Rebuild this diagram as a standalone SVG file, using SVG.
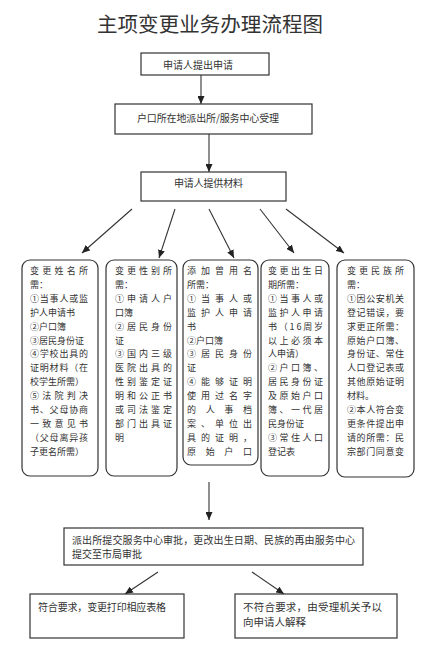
<svg xmlns="http://www.w3.org/2000/svg" width="426" height="647" viewBox="0 0 426 647">
<style>
text{font-family:"Noto Sans CJK SC","Noto Sans",sans-serif;fill:#333}
.b{fill:#fff;stroke:#333;stroke-width:1.2}
.c{fill:#fff;stroke:#333;stroke-width:1.2}
.t{font-size:10px}
.s{font-size:9px}
.ln{stroke:#333;stroke-width:1.1;fill:none;marker-end:url(#ah)}
</style>
<defs>
<marker id="ah" markerUnits="userSpaceOnUse" markerWidth="8" markerHeight="7" refX="8" refY="3.5" orient="auto">
<path d="M0,0 L8,3.5 L0,7 z" fill="#222"/>
</marker>
</defs>
<rect width="426" height="647" fill="#fff"/>
<text x="97" y="31.5" font-size="20.5" textLength="226" lengthAdjust="spacing">主项变更业务办理流程图</text>

<g id="connectors">
<line class="ln" x1="201" y1="75" x2="201" y2="104"/>
<line class="ln" x1="209" y1="134" x2="209" y2="172"/>
<line class="ln" x1="132" y1="209" x2="82" y2="253"/>
<line class="ln" x1="175" y1="209" x2="159" y2="258"/>
<line class="ln" x1="209" y1="209" x2="234" y2="258"/>
<line class="ln" x1="260" y1="209" x2="294" y2="253"/>
<line class="ln" x1="286" y1="209" x2="344" y2="253"/>
<line class="ln" x1="209" y1="482" x2="209" y2="520"/>
<line class="ln" x1="158" y1="572" x2="125" y2="594"/>
<line class="ln" x1="252" y1="572" x2="284" y2="594"/>
</g>

<g id="n1">
<rect class="b" x="141" y="53" width="128" height="22"/>
<text class="t" x="163" y="69" textLength="70" lengthAdjust="spacing">申请人提出申请</text>
</g>
<g id="n2">
<rect class="b" x="115" y="104" width="197" height="30"/>
<text class="t" x="137" y="121.5" textLength="142" lengthAdjust="spacing">户口所在地派出所/服务中心受理</text>
</g>
<g id="n3">
<rect class="b" x="141" y="172" width="145" height="29"/>
<text class="t" x="174" y="186.5" textLength="69" lengthAdjust="spacing">申请人提供材料</text>
</g>

<g id="c1">
<rect class="c" x="22" y="260" width="76" height="216" rx="8"/>
<g class="s">
<text x="30" y="274" textLength="58" lengthAdjust="spacing">变更姓名所</text>
<text x="30" y="287.9">需：</text>
<text x="30" y="301.8" textLength="58" lengthAdjust="spacing">①当事人或监</text>
<text x="30" y="315.7">护人申请书</text>
<text x="30" y="329.6">②户口簿</text>
<text x="30" y="343.5">③居民身份证</text>
<text x="30" y="357.4" textLength="58" lengthAdjust="spacing">④学校出具的</text>
<text x="30" y="371.3" textLength="58" lengthAdjust="spacing">证明材料（在</text>
<text x="30" y="385.2">校学生所需）</text>
<text x="30" y="399.1" textLength="58" lengthAdjust="spacing">⑤法院判决</text>
<text x="30" y="413" textLength="58" lengthAdjust="spacing">书、父母协商</text>
<text x="30" y="426.9" textLength="58" lengthAdjust="spacing">一致意见书</text>
<text x="30" y="440.8" textLength="58" lengthAdjust="spacing">（父母离异孩</text>
<text x="30" y="454.7">子更名所需）</text>
</g>
</g>

<g id="c2">
<rect class="c" x="106" y="260" width="71" height="216" rx="8"/>
<g class="s">
<text x="115" y="274" textLength="57" lengthAdjust="spacing">变更性别所</text>
<text x="115" y="287.9">需：</text>
<text x="115" y="301.8" textLength="57" lengthAdjust="spacing">①申请人户</text>
<text x="115" y="315.7">口簿</text>
<text x="115" y="329.6" textLength="57" lengthAdjust="spacing">②居民身份</text>
<text x="115" y="343.5">证</text>
<text x="115" y="357.4" textLength="57" lengthAdjust="spacing">③国内三级</text>
<text x="115" y="371.3" textLength="57" lengthAdjust="spacing">医院出具的</text>
<text x="115" y="385.2" textLength="57" lengthAdjust="spacing">性别鉴定证</text>
<text x="115" y="399.1" textLength="57" lengthAdjust="spacing">明和公正书</text>
<text x="115" y="413" textLength="57" lengthAdjust="spacing">或司法鉴定</text>
<text x="115" y="426.9" textLength="57" lengthAdjust="spacing">部门出具证</text>
<text x="115" y="440.8">明</text>
</g>
</g>

<g id="c3">
<rect class="c" x="183" y="260" width="75" height="205" rx="8"/>
<g class="s">
<text x="187" y="274" textLength="65" lengthAdjust="spacing">添加曾用名</text>
<text x="187" y="287.9">所需：</text>
<text x="187" y="301.8" textLength="65" lengthAdjust="spacing">①当事人或</text>
<text x="187" y="315.7" textLength="65" lengthAdjust="spacing">监护人申请</text>
<text x="187" y="329.6">书</text>
<text x="187" y="343.5">②户口簿</text>
<text x="187" y="357.4" textLength="65" lengthAdjust="spacing">③居民身份</text>
<text x="187" y="371.3">证</text>
<text x="187" y="385.2" textLength="65" lengthAdjust="spacing">④能够证明</text>
<text x="187" y="399.1" textLength="65" lengthAdjust="spacing">使用过名字</text>
<text x="187" y="413" textLength="65" lengthAdjust="spacing">的人事档</text>
<text x="187" y="426.9" textLength="65" lengthAdjust="spacing">案、单位出</text>
<text x="187" y="440.8" textLength="65" lengthAdjust="spacing">具的证明，</text>
<text x="187" y="454.7" textLength="65" lengthAdjust="spacing">原始户口</text>
</g>
</g>

<g id="c4">
<rect class="c" x="261" y="260" width="68" height="216" rx="8"/>
<g class="s">
<text x="268" y="274" textLength="55" lengthAdjust="spacing">变更出生日</text>
<text x="268" y="287.9">期所需：</text>
<text x="268" y="301.8" textLength="55" lengthAdjust="spacing">①当事人或</text>
<text x="268" y="315.7" textLength="55" lengthAdjust="spacing">监护人申请</text>
<text x="268" y="329.6" textLength="55" lengthAdjust="spacing">书（16周岁</text>
<text x="268" y="343.5" textLength="55" lengthAdjust="spacing">以上必须本</text>
<text x="268" y="357.4">人申请）</text>
<text x="268" y="371.3" textLength="55" lengthAdjust="spacing">②户口簿、</text>
<text x="268" y="385.2" textLength="55" lengthAdjust="spacing">居民身份证</text>
<text x="268" y="399.1" textLength="55" lengthAdjust="spacing">及原始户口</text>
<text x="268" y="413" textLength="55" lengthAdjust="spacing">簿、一代居</text>
<text x="268" y="426.9">民身份证</text>
<text x="268" y="440.8" textLength="55" lengthAdjust="spacing">③常住人口</text>
<text x="268" y="454.7">登记表</text>
</g>
</g>

<g id="c5">
<rect class="c" x="337" y="260" width="77" height="217" rx="8"/>
<g class="s">
<text x="347" y="274" textLength="57" lengthAdjust="spacing">变更民族所</text>
<text x="347" y="287.9">需：</text>
<text x="347" y="301.8" textLength="57" lengthAdjust="spacing">①因公安机关</text>
<text x="347" y="315.7" textLength="57" lengthAdjust="spacing">登记错误，要</text>
<text x="347" y="329.6" textLength="57" lengthAdjust="spacing">求更正所需：</text>
<text x="347" y="343.5" textLength="57" lengthAdjust="spacing">原始户口簿、</text>
<text x="347" y="357.4" textLength="57" lengthAdjust="spacing">身份证、常住</text>
<text x="347" y="371.3" textLength="57" lengthAdjust="spacing">人口登记表或</text>
<text x="347" y="385.2" textLength="57" lengthAdjust="spacing">其他原始证明</text>
<text x="347" y="399.1">材料。</text>
<text x="347" y="413" textLength="57" lengthAdjust="spacing">②本人符合变</text>
<text x="347" y="426.9" textLength="57" lengthAdjust="spacing">更条件提出申</text>
<text x="347" y="440.8" textLength="57" lengthAdjust="spacing">请的所需：民</text>
<text x="347" y="454.7" textLength="57" lengthAdjust="spacing">宗部门同意变</text>
</g>
</g>

<g id="n4">
<rect class="b" x="64" y="528" width="299" height="37"/>
<text class="t" x="72" y="543.5" textLength="283" lengthAdjust="spacing">派出所提交服务中心审批，更改出生日期、民族的再由服务中心</text>
<text class="t" x="72" y="557.5">提交至市局审批</text>
</g>
<g id="n5">
<rect class="b" x="30" y="594" width="154" height="44"/>
<text class="t" x="38" y="610.5" textLength="128" lengthAdjust="spacing">符合要求，变更打印相应表格</text>
</g>
<g id="n6">
<rect class="b" x="235" y="594" width="162" height="44"/>
<text x="243" y="610.5" font-size="10.5" textLength="139" lengthAdjust="spacing">不符合要求，由受理机关予以</text>
<text x="243" y="625.5" font-size="10.5">向申请人解释</text>
</g>
</svg>
